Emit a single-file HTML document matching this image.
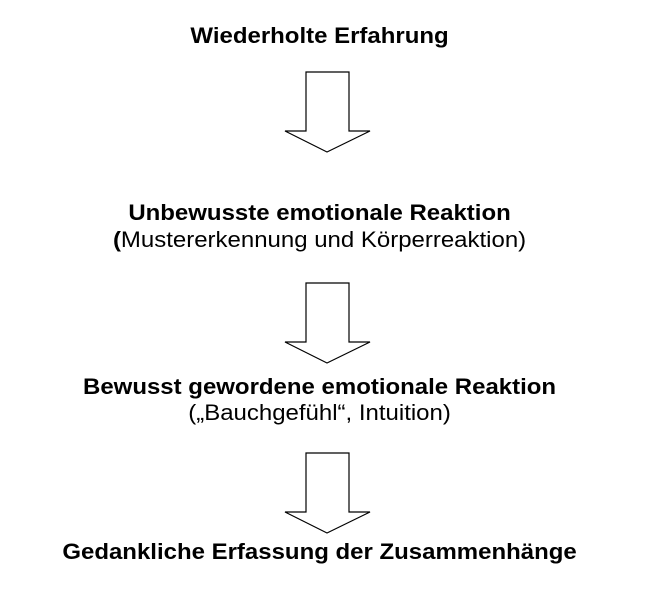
<!DOCTYPE html>
<html><head><meta charset="utf-8"><style>
body{margin:0;width:647px;height:597px;background:#fff;position:relative;overflow:hidden;font-family:"Liberation Sans",Arial,sans-serif;color:#000}
.t{position:absolute;left:0;width:639px;text-align:center;font-size:22px;line-height:24px;white-space:nowrap;transform:scaleX(1.09);transform-origin:319px 0}
.b{font-weight:bold}
svg{position:absolute;left:0;top:0}
</style></head><body>
<svg width="647" height="597">
<g fill="#fff" stroke="#000" stroke-width="1.2">
<polygon points="306,72 349,72 349,131 370,131 327,152 285,131 306,131"/>
<polygon points="306,283 349,283 349,342 370,342 327,363 285,342 306,342"/>
<polygon points="306,453 349,453 349,512 370,512 327,533 285,512 306,512"/>
</g></svg>
<div class="t b" style="top:24px">Wiederholte Erfahrung</div>
<div class="t b" style="top:201px">Unbewusste emotionale Reaktion</div>
<div class="t" style="top:228px"><b>(</b>Mustererkennung und Körperreaktion)</div>
<div class="t b" style="top:375px">Bewusst gewordene emotionale Reaktion</div>
<div class="t" style="top:401px">(„Bauchgefühl“, Intuition)</div>
<div class="t b" style="top:540px">Gedankliche Erfassung der Zusammenhänge</div>
</body></html>
